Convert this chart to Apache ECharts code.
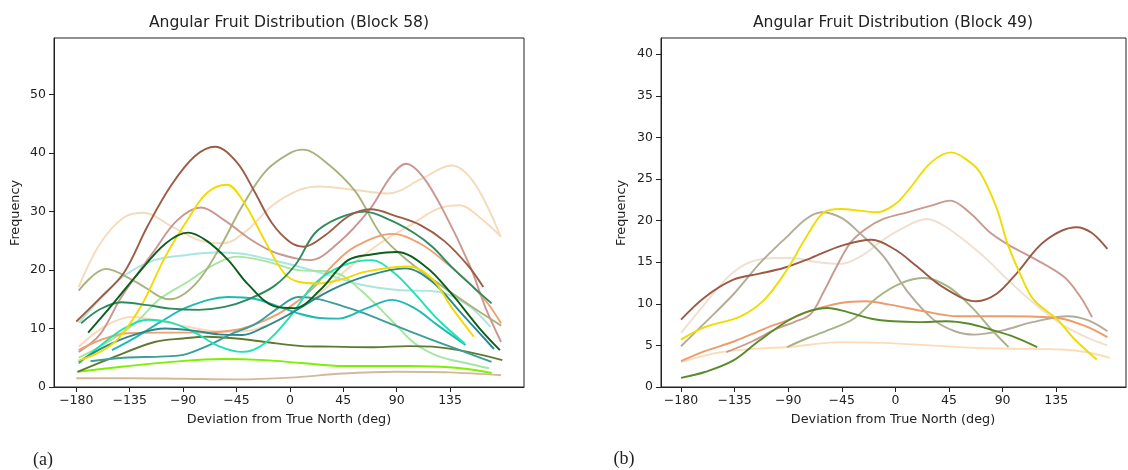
<!DOCTYPE html>
<html><head><meta charset="utf-8">
<script src="https://cdn.jsdelivr.net/npm/echarts@6/dist/echarts.min.js"></script>
<style>html,body{margin:0;padding:0;background:#fff}#c{width:1128px;height:470px}</style>
</head><body><div id="c"></div>
<script>
// ---------- tick labels ----------
const xTicks = [-180, -135, -90, -45, 0, 45, 90, 135];
const yTicksA = [0, 10, 20, 30, 40, 50];
const yTicksB = [0, 5, 10, 15, 20, 25, 30, 35, 40];

// ---------- Block 58 (panel a): [deg, frequency] ----------
const a_sienna = [[-180,11.2],[-160,15.2],[-140,19.5],[-120,27.5],[-100,34.5],[-80,39.5],[-63,41.1],[-45,38.5],[-30,33.5],[-15,28],[0,24.8],[12,24],[30,26],[50,29.3],[68,30.4],[90,29.2],[110,27.7],[130,25],[150,20.8],[163,17.1]];
const a_khaki = [[-178,16.5],[-155,20.2],[-130,18],[-101,15],[-80,17.5],[-60,23.5],[-40,31],[-20,37],[0,40],[11,40.6],[30,38.5],[55,33.5],[77,26],[100,21.5],[130,17],[155,13.5],[178,10.5]];
const a_wheat = [[-178,17.1],[-160,24.5],[-140,29],[-123,29.8],[-100,27.5],[-75,25],[-56,24.6],[-35,27],[-15,31],[8,33.7],[25,34.3],[55,33.7],[83,33.1],[110,35.5],[136,37.9],[155,35],[177,26]];
const a_peach = [[-178,6.9],[-155,10.5],[-133,12],[-110,11.3],[-86,10.3],[-60,9.5],[-40,9.5],[-20,10.5],[0,12.5],[25,16],[50,20.5],[76,24.6],[100,27.5],[125,30.5],[143,31.1],[160,29],[178,25.7]];
const a_paleTurq = [[-178,11],[-160,15],[-140,19],[-114,21.7],[-90,22.5],[-63,23],[-40,22.8],[-21,22],[0,21],[35,19],[60,17.5],[91,16.6],[125,16.3],[150,14],[169,10.3]];
const a_rosy = [[-178,6.0],[-160,9],[-142,15.4],[-114,23.4],[-95,28.5],[-75,30.7],[-55,28.5],[-35,25.5],[-15,23.2],[5,22],[17,21.7],[40,24.5],[67,30.3],[85,36],[98,38.2],[112,36],[129,30.3],[152,20.6],[165,13.5],[178,7.7]];
const a_gold = [[-178,4.5],[-160,6],[-145,8.2],[-125,14],[-105,22.3],[-85,29],[-70,33.2],[-53,34.6],[-40,32],[-21,25],[-5,19.5],[7,18],[24,17.7],[45,18.5],[63,19.7],[100,20.6],[120,18.5],[136,13.7],[155,8.6]];
const a_darkGreen = [[-170,9.3],[-150,14],[-128,19.4],[-105,24.5],[-86,26.4],[-70,25],[-52,21.7],[-35,17.5],[-13,13.8],[4,13.5],[25,16.5],[49,21.7],[70,22.7],[90,23.1],[115,20.5],[136,16],[160,10],[177,6.3]];
const a_seaGreen = [[-176,10.9],[-160,13.3],[-142,14.5],[-120,14],[-100,13.4],[-77,13.2],[-55,13.7],[-35,15],[-13,17.3],[5,21],[21,26.3],[40,28.8],[63,30],[85,28.5],[105,26.3],[120,24],[136,20.6],[155,17],[170,14.3]];
const a_lightGreen = [[-178,5],[-155,7.5],[-130,11],[-110,15],[-86,18],[-65,20.8],[-45,22.3],[-20,21.5],[7,20],[30,19.8],[44,19.1],[60,16.5],[77,13.2],[90,10.5],[105,7.5],[125,5.3],[148,4.1],[168,3.2]];
const a_sandy = [[-178,6.3],[-160,8],[-137,9.2],[-110,9.3],[-80,9.3],[-45,9.8],[-20,11.5],[0,13.7],[20,17],[35,20.6],[55,24],[87,26.2],[110,24.5],[129,21.7],[150,18],[166,14.5],[178,10.9]];
const a_lightSea = [[-150,6.3],[-130,8.5],[-110,11],[-86,13.7],[-52,15.4],[-30,15.1],[-10,13.8],[7,12.6],[25,11.8],[41,11.7],[65,13.5],[86,14.9],[105,13.5],[125,10.5],[148,7.2]];
const a_turq = [[-178,4],[-160,7],[-140,10],[-120,11.5],[-100,11],[-80,9.3],[-60,7],[-40,6],[-21,7.5],[0,12],[21,17.7],[45,20.8],[69,21.7],[88,19.5],[105,16],[125,11.5],[147,7.5]];
const a_teal = [[-178,4.3],[-155,7],[-130,9],[-105,10],[-80,9.6],[-60,9],[-40,8.9],[-21,10.3],[0,12.5],[35,16.6],[65,19],[97,20.3],[120,18],[145,12.5],[172,6.5]];
const a_teal2 = [[-168,4.4],[-140,5],[-110,5.2],[-90,5.5],[-70,7],[-50,9],[-29,10.8],[-10,13.5],[7,15.4],[25,15],[45,13.8],[63,12.6],[85,10.8],[105,9.2],[130,7.3],[150,5.8],[170,4.3]];
const a_olive = [[-179,2.6],[-150,5],[-114,7.7],[-90,8.3],[-70,8.6],[-45,8.3],[-21,7.7],[10,7],[35,6.9],[70,6.8],[100,7],[120,6.9],[150,6],[179,4.6]];
const a_lawn = [[-179,2.6],[-140,3.5],[-100,4.3],[-57,4.8],[-21,4.6],[10,4.1],[45,3.6],[100,3.6],[140,3.3],[170,2.4]];
const a_tan = [[-180,1.5],[-135,1.5],[-90,1.4],[-45,1.3],[0,1.6],[45,2.3],[90,2.6],[135,2.5],[178,2.0]];

// ---------- Block 49 (panel b) ----------
const b_sienna = [[-180,8.1],[-160,10.8],[-136,12.9],[-115,13.6],[-94,14.3],[-71,15.5],[-45,17],[-20,17.7],[0,16.5],[18,14.5],[40,12],[68,10.3],[85,11.2],[102,13.7],[125,17.5],[152,19.2],[165,18.5],[178,16.6]];
const b_gold = [[-180,5.7],[-160,7.2],[-130,8.5],[-110,10.5],[-91,14.1],[-75,18],[-60,21],[-46,21.4],[-30,21.2],[-15,21],[0,22],[10,23.5],[30,27],[47,28.2],[60,27.3],[71,25.8],[85,21.5],[94,17.3],[105,13.5],[116,10.5],[136,8.1],[150,5.8],[169,3.3]];
const b_rosy = [[-142,4.2],[-120,5.5],[-100,7],[-85,7.8],[-71,8.8],[-60,11.5],[-50,14.3],[-38,17.3],[-25,19],[-10,20.2],[10,21],[30,21.8],[46,22.4],[62,21],[80,18.5],[96,17],[113,15.7],[141,13.3],[155,10.9],[165,8.4]];
const b_sandy = [[-180,3.1],[-160,4.3],[-135,5.5],[-110,7],[-91,8],[-70,9.2],[-46,10.1],[-25,10.3],[-5,9.9],[24,9.1],[52,8.5],[94,8.5],[136,8.3],[160,7.3],[178,6.0]];
const b_grey = [[-180,4.9],[-160,7.7],[-135,11.3],[-113,15],[-90,18.2],[-75,20.2],[-62,21],[-45,20.3],[-30,18.5],[-10,15.7],[10,11.5],[32,8.1],[50,6.7],[66,6.3],[90,6.8],[115,7.8],[145,8.5],[162,8],[178,6.7]];
const b_khaki = [[-91,4.8],[-75,5.8],[-57,6.8],[-35,8.2],[-15,10.8],[5,12.5],[24,13.1],[45,12],[66,9.3],[80,7],[95,4.8]];
const b_wheat = [[-180,6.5],[-160,10],[-140,13.3],[-122,15],[-100,15.5],[-88,15.5],[-65,15],[-46,14.8],[-28,15.8],[-10,17.7],[5,19],[26,20.2],[45,19],[74,15.7],[95,12.8],[116,10.1],[140,7.5],[160,6],[178,5.0]];
const b_olive = [[-180,1.1],[-160,1.8],[-136,3.2],[-115,5.5],[-91,7.9],[-75,9],[-57,9.5],[-40,9],[-20,8.2],[-2,7.9],[20,7.8],[43,7.9],[62,7.6],[80,6.9],[100,6],[119,4.8]];
const b_peach = [[-180,3.0],[-150,4.1],[-120,4.6],[-90,4.8],[-46,5.4],[-10,5.3],[30,5],[66,4.7],[100,4.6],[140,4.5],[160,4.2],[180,3.5]];

// ---------- styling ----------
const seriesA = [
  [a_tan,'#d4b89a'],[a_peach,'#fbd8b8'],[a_wheat,'#f3dcbc'],[a_paleTurq,'#a9e6df'],[a_lightGreen,'#a6e6a0'],
  [a_khaki,'#a9b27e'],[a_rosy,'#c99690'],[a_sandy,'#ef9f72'],[a_lawn,'#7cf000'],[a_olive,'#5e7a32'],
  [a_teal2,'#3b9e98'],[a_lightSea,'#1fbab2'],[a_turq,'#1fe3b0'],[a_teal,'#2a8893'],[a_gold,'#f2da00'],
  [a_seaGreen,'#2e8b5e'],[a_sienna,'#9b5c46'],[a_darkGreen,'#0d5e1c']
];
const seriesB = [
  [b_peach,'#fcdcb8'],[b_wheat,'#efe0d0'],[b_khaki,'#a6b487'],[b_grey,'#b3ac98'],[b_sandy,'#ec9c6c'],
  [b_rosy,'#c99a8e'],[b_olive,'#5a8a2a'],[b_sienna,'#9b5a44'],[b_gold,'#f0dc00']
];

const FONT = 'DejaVu Sans';
const TXT = '#222';
const fmt = v => (v < 0 ? '\u2212' + Math.abs(v) : String(v));

function xAxis(gi, min, max) {
  return {
    type: 'value', gridIndex: gi, min: min, max: max,
    splitLine: {show: false},
    axisLine: {show: true, onZero: false, lineStyle: {color: TXT, width: 1}},
    axisTick: {show: true, length: 5, customValues: xTicks, lineStyle: {color: TXT}},
    axisLabel: {show: true, customValues: xTicks, formatter: fmt, margin: 7,
                fontFamily: FONT, fontSize: 12.5, color: TXT}
  };
}
function yAxis(gi, max, ticks) {
  return {
    type: 'value', gridIndex: gi, min: 0, max: max,
    splitLine: {show: false},
    axisLine: {show: true, onZero: false, lineStyle: {color: TXT, width: 1}},
    axisTick: {show: true, length: 5, customValues: ticks, lineStyle: {color: TXT}},
    axisLabel: {show: true, customValues: ticks, formatter: fmt, margin: 8,
                fontFamily: FONT, fontSize: 12.5, color: TXT}
  };
}
function mkSeries(list, gi) {
  return list.map(([d, c]) => ({
    type: 'line', xAxisIndex: gi, yAxisIndex: gi, data: d,
    smooth: 0.35, showSymbol: false, symbol: 'none',
    lineStyle: {color: c, width: 1.9}, itemStyle: {color: c},
    emphasis: {disabled: true}, silent: true
  }));
}
function txt(x, y, s, size, family, rot) {
  return {type: 'text', x: x, y: y, rotation: rot || 0, silent: true,
    style: {text: s, fill: TXT, font: size + 'px "' + family + '"',
            align: 'center', verticalAlign: 'middle', textAlign: 'center', textVerticalAlign: 'middle'}};
}

const chart = echarts.init(document.getElementById('c'), null, {renderer: 'canvas'});
chart.setOption({
  animation: false,
  backgroundColor: '#ffffff',
  grid: [
    {left: 54, top: 38, width: 470, height: 349, show: true, borderColor: TXT, borderWidth: 1, backgroundColor: 'transparent'},
    {left: 661, top: 38, width: 465, height: 349, show: true, borderColor: TXT, borderWidth: 1, backgroundColor: 'transparent'}
  ],
  xAxis: [xAxis(0, -198.8, 197.3), xAxis(1, -196.8, 193.6)],
  yAxis: [yAxis(0, 59.7, yTicksA), yAxis(1, 41.95, yTicksB)],
  series: mkSeries(seriesA, 0).concat(mkSeries(seriesB, 1)),
  graphic: [
    txt(289, 23, 'Angular Fruit Distribution (Block 58)', 15.6, FONT),
    txt(893, 23, 'Angular Fruit Distribution (Block 49)', 15.6, FONT),
    txt(289, 420, 'Deviation from True North (deg)', 12.8, FONT),
    txt(893, 420, 'Deviation from True North (deg)', 12.8, FONT),
    txt(16, 213, 'Frequency', 12.8, FONT, Math.PI / 2),
    txt(622, 213, 'Frequency', 12.8, FONT, Math.PI / 2),
    txt(43, 460, '(a)', 18, 'Liberation Serif'),
    txt(624, 459, '(b)', 18, 'Liberation Serif')
  ]
});
</script>
</body></html>
